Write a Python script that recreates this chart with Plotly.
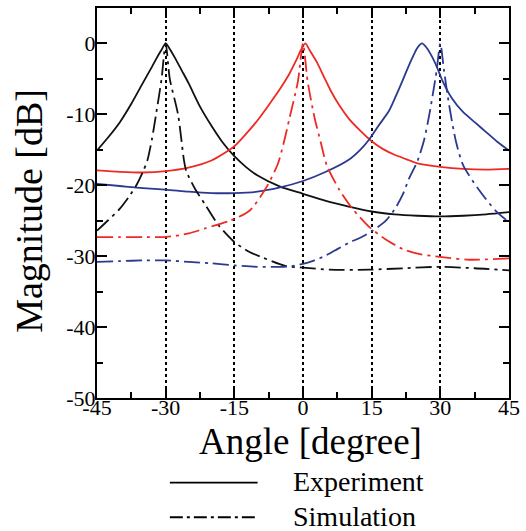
import plotly.graph_objects as go

# ---- measured / simulated beam patterns (angle in degrees, magnitude in dB) ----
exp_black_deg = [-45, -42.5, -40, -37.5, -35, -33, -32, -31, -30, -29, -28, -26.5, -25, -22.5, -20,
                 -17.5, -15, -12.5, -10, -5, 0, 5, 10, 15, 20, 25, 30, 35, 40, 45]
exp_black_db = [-15.1, -13.2, -11.1, -8.5, -5.6, -3.3, -2.1, -1.0, 0.0, -0.9, -2.0, -3.8, -5.6, -8.9, -11.6,
                -14.0, -15.9, -17.4, -18.6, -20.2, -21.2, -22.2, -23.0, -23.7, -24.1, -24.3, -24.4, -24.3, -24.1, -23.8]

sim_black_deg = [-45, -42.5, -40, -38, -36.4, -34.9, -34, -33, -32.1, -30.9, -30, -29.1, -27.3, -26, -25.5,
                 -23.5, -21.5, -18.5, -15, -12, -8.8, -3.7, 0, 5.8, 14.5, 22, 30, 37.5, 45]
sim_black_db = [-26.4, -24.9, -23.3, -21.6, -20.0, -18.0, -16.5, -13.5, -10.0, -5.0, 0.0, -5.0, -10.0, -16.5, -18.0,
                -20.6, -22.6, -25.6, -28.0, -29.3, -30.2, -31.4, -31.6, -31.9, -31.9, -31.7, -31.5, -31.7, -32.0]

exp_red_deg = [-45, -40, -35, -30, -25, -20, -15, -12.5, -10, -7.5, -5, -3, -1.5, -0.5, 0.5, 1.5, 3, 4.5, 6, 8,
               10, 12.5, 15, 17.5, 20, 22.5, 25, 30, 35, 40, 45]
exp_red_db = [-17.9, -18.1, -18.2, -18.0, -17.5, -16.5, -14.5, -12.8, -10.9, -8.7, -6.4, -4.3, -2.4, -1.0, 0.0,
              -1.0, -2.6, -4.6, -6.6, -8.8, -10.6, -12.3, -13.8, -14.9, -15.7, -16.3, -16.9, -17.4, -17.7, -17.8, -17.7]

sim_red_deg = [-45, -40, -35, -30, -25, -21.5, -16, -11.7, -8, -5.5, -4.2, -2.9, -1.1, 0, 1.0, 2.5, 3.9, 5.2,
               8, 10.8, 14.5, 18, 21.8, 25.5, 29.9, 36.3, 45]
sim_red_db = [-27.3, -27.3, -27.3, -27.3, -26.8, -26.1, -25.0, -23.6, -20.3, -17.0, -14.0, -10.4, -5.3, 0.0,
              -5.3, -10.4, -14.0, -17.2, -20.7, -23.3, -25.9, -27.6, -29.0, -29.7, -30.1, -30.5, -30.3]

exp_blue_deg = [-45, -40, -35, -30, -25, -20, -15, -10, -5, 0, 5, 10, 12.5, 14.5, 16.5, 18.8, 20.3, 21.7, 23,
                23.9, 25, 26, 27, 28.3, 29.3, 30.5, 32.6, 35, 37.7, 40, 42.5, 45]
exp_blue_db = [-19.8, -20.1, -20.4, -20.6, -20.9, -21.1, -21.1, -20.9, -20.3, -19.4, -18.1, -16.4, -15.0, -13.5,
               -11.6, -9.5, -7.4, -5.3, -3.3, -2.0, -0.6, 0.0, -0.6, -2.0, -3.4, -5.3, -7.8, -9.7, -11.2,
               -12.5, -13.9, -15.1]

sim_blue_deg = [-45, -40, -35, -30, -25, -20, -15, -10, -5, -2.5, 0, 2.5, 5, 7.5, 10, 12.5, 15, 18.1, 20.3,
                21.8, 23.2, 25, 26.5, 27.6, 28.4, 29.2, 30, 30.8, 31.9, 33.4, 35, 38.5, 42.1, 45]
sim_blue_db = [-30.8, -30.7, -30.6, -30.6, -30.8, -31.0, -31.3, -31.5, -31.5, -31.4, -31.1, -30.6, -29.9, -29.0,
               -28.1, -27.4, -26.5, -25.0, -23.1, -21.3, -19.0, -16.6, -13.5, -10.0, -7.0, -3.8, 0.0, -3.8,
               -8.6, -13.8, -17.2, -20.7, -23.6, -25.2]

x_ticks = [-45, -30, -15, 0, 15, 30, 45]
x_tick_text = ["-45", "-30", "-15", "0", "15", "30", "45"]
y_ticks = [0, -10, -20, -30, -40, -50]
y_tick_text = ["0", "-10", "-20", "-30", "-40", "-50"]
legend_labels = ["Experiment", "Simulation"]

BLACK = "#111111"
RED = "#EE2A24"
BLUE = "#2B3990"
SERIF = "Liberation Serif"
SIM_DASH = "16px,5px,3px,5px"

fig = go.Figure()

series = [
    (exp_black_deg, exp_black_db, BLACK, "solid"),
    (exp_red_deg, exp_red_db, RED, "solid"),
    (exp_blue_deg, exp_blue_db, BLUE, "solid"),
    (sim_black_deg, sim_black_db, BLACK, SIM_DASH),
    (sim_red_deg, sim_red_db, RED, SIM_DASH),
    (sim_blue_deg, sim_blue_db, BLUE, SIM_DASH),
]
for xs, ys, color, dash in series:
    fig.add_trace(go.Scatter(
        x=xs, y=ys, mode="lines",
        line=dict(color=color, width=1.8, dash=dash, shape="spline", smoothing=0.7),
        showlegend=False, hoverinfo="skip",
    ))

tick_font = dict(family=SERIF, size=22, color="black")

fig.update_xaxes(
    range=[-45, 45], tickmode="array", tickvals=x_ticks, ticktext=x_tick_text,
    ticks="inside", ticklen=10, tickwidth=2, tickcolor="black", ticklabelstandoff=-11,
    showline=True, linewidth=2, linecolor="black", mirror="ticks",
    showgrid=True, gridcolor="black", griddash="dot", gridwidth=1.5,
    zeroline=False, tickfont=tick_font,
    minor=dict(tickvals=[-37.5, -22.5, -7.5, 7.5, 22.5, 37.5], ticks="inside",
               ticklen=6, tickwidth=2, tickcolor="black", showgrid=False),
)
fig.update_yaxes(
    range=[-50, 5], tickmode="array", tickvals=y_ticks, ticktext=y_tick_text,
    ticks="inside", ticklen=10, tickwidth=2, tickcolor="black", ticklabelstandoff=-5,
    showline=True, linewidth=2, linecolor="black", mirror="ticks",
    showgrid=False, zeroline=False, tickfont=tick_font,
    minor=dict(tickvals=[-5, -15, -25, -35, -45], ticks="inside",
               ticklen=6, tickwidth=2, tickcolor="black", showgrid=False),
)

# axis titles
fig.add_annotation(text="Magnitude [dB]", xref="paper", yref="paper", x=-0.165, y=0.48,
                   textangle=-90, showarrow=False, xanchor="center", yanchor="middle",
                   font=dict(family=SERIF, size=38, color="black"))
fig.add_annotation(text="Angle [degree]", xref="paper", yref="paper", x=0.519, y=-0.112,
                   showarrow=False, xanchor="center", yanchor="middle",
                   font=dict(family=SERIF, size=37, color="black"))

# hand-built legend beneath the axes
legend_rows = [(-0.2168, "solid", legend_labels[0]), (-0.3058, "13px,4px,3px,4px", legend_labels[1])]
for y_row, dash, label in legend_rows:
    fig.add_shape(type="line", xref="paper", yref="paper", x0=0.1768, x1=0.3898, y0=y_row, y1=y_row,
                  line=dict(color="black", width=1.8, dash=dash))
    fig.add_annotation(text=label, xref="paper", yref="paper", x=0.472, y=y_row + 0.003,
                       showarrow=False, xanchor="left", yanchor="middle",
                       font=dict(family=SERIF, size=28, color="black"))

fig.update_layout(
    width=526, height=531,
    margin=dict(l=97, r=16, t=6, b=133),
    plot_bgcolor="white", paper_bgcolor="white",
)

fig.write_html("out.html")
